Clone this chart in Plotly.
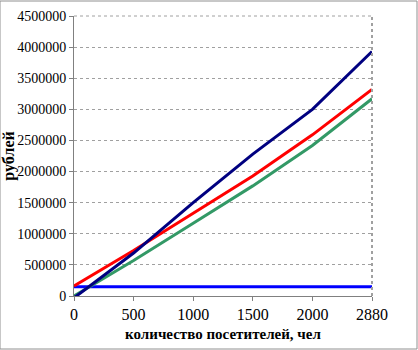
import plotly.graph_objects as go

visitors = ["0", "500", "1000", "1500", "2000", "2880"]
revenue = [-30000, 690000, 1500000, 2280000, 3000000, 3930000]
total_costs = [160000, 730000, 1330000, 1930000, 2590000, 3320000]
variable_costs = [0, 570000, 1170000, 1770000, 2420000, 3170000]
fixed_costs = [150000, 150000, 150000, 150000, 150000, 150000]

y_ticks = list(range(0, 4500001, 500000))

fig = go.Figure()
series = [
    (fixed_costs, "#0000FF"),
    (variable_costs, "#339966"),
    (total_costs, "#FF0000"),
    (revenue, "#000080"),
]
for vals, col in series:
    fig.add_trace(go.Scatter(x=visitors, y=vals, mode="lines",
                             line=dict(color=col, width=3), showlegend=False,
                             cliponaxis=True))

SERIF = "Liberation Serif"
fig.update_layout(
    width=418, height=350,
    margin=dict(l=74, r=46, t=16, b=54, autoexpand=False),
    paper_bgcolor="white", plot_bgcolor="white",
    font=dict(family=SERIF, color="black"),
    xaxis=dict(type="category", range=[0, 5], showgrid=False, automargin=False,
               showline=True, linecolor="#808080", linewidth=1,
               ticks="outside", ticklen=4, tickcolor="#808080",
               tickfont=dict(family=SERIF, size=16, color="black"), mirror=False,
               title=dict(text="<b>количество посетителей, чел</b>",
                          font=dict(family=SERIF, size=15), standoff=6)),
    yaxis=dict(range=[0, 4500000], tickvals=y_ticks, automargin=False,
               ticktext=[str(v) for v in y_ticks],
               showgrid=True, gridcolor="#a0a0a0", griddash="dot", gridwidth=1,
               showline=True, linecolor="#808080", linewidth=1,
               ticks="outside", ticklen=4, tickcolor="#808080",
               tickfont=dict(family=SERIF, size=14, color="black"), zeroline=False,
               title=dict(text="<b>рублей</b>", font=dict(family=SERIF, size=16), standoff=6)),
    shapes=[
        dict(type="line", xref="paper", yref="paper", x0=0, x1=1, y0=1, y1=1,
             line=dict(color="#a0a0a0", width=1, dash="dot")),
        dict(type="line", xref="paper", yref="paper", x0=1, x1=1, y0=0, y1=1,
             line=dict(color="#a0a0a0", width=2, dash="dot")),
        dict(type="rect", xref="paper", yref="paper",
             x0=-74/298, x1=1+45/298, y0=-53/280, y1=1+15/280,
             line=dict(color="#909090", width=1)),
    ],
)

fig.write_html("out.html")
